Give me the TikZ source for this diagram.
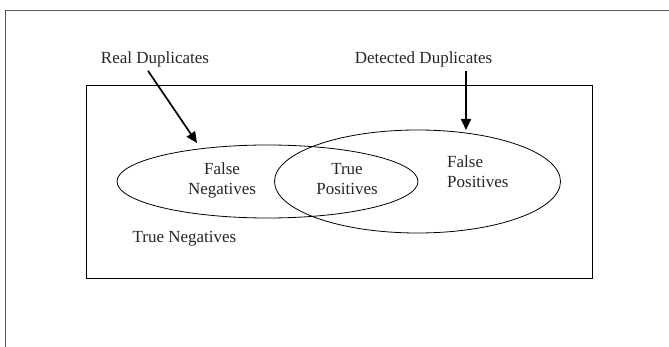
\documentclass[tikz,border=0pt]{standalone}
\usepackage{fontspec}
\setmainfont{Liberation Serif}
\usepackage{tikz}
\usetikzlibrary{arrows.meta,positioning,shapes.geometric}
\tikzstyle{vennset} = [draw, ellipse, line width=0.8pt, inner sep=0pt]
\tikzstyle{vennlabel} = [text=black!85, font=\fontsize{17}{20.5}\selectfont, inner sep=3pt]
\tikzstyle{duparrow} = [draw, line width=1.7pt, -{Triangle[length=11pt,width=10pt]}]
\tikzstyle{pageframe} = [draw=black!65, line width=1.8pt]

\begin{document}
\begin{tikzpicture}[x=1pt,y=-1pt]
        \useasboundingbox (0,0) rectangle (669,347);
        % frame of the page
        \draw[pageframe] (5.5,347) -- (5.5,10.5) -- (669,10.5);
        % the whole record space
        \node[draw, line width=0.9pt, minimum width=506pt, minimum height=193pt] (space) at (339,181.5) {};
        % the two sets
        \node[vennset, minimum width=301pt, minimum height=73pt] (realSet) at (267.5,181.5) {};
        \node[vennset, minimum width=286pt, minimum height=103pt] (detSet) at (417.5,181.5) {};
        % labels
        \node[vennlabel, anchor=base] (real) at (155,64) {Real Duplicates};
        \node[vennlabel, anchor=base] (det) at (423.5,64) {Detected Duplicates};
        \node[vennlabel, anchor=base, align=center] (fn) at (222,195) {False\\Negatives};
        \node[vennlabel, anchor=base, align=center] (tp) at (347,195) {True\\Positives};
        \node[vennlabel, anchor=base west, align=left] (fp) at (444,188) {False\\Positives};
        \node[vennlabel, anchor=base] (tn) at (184.5,243) {True Negatives};
        % arrows
        \coordinate (realTip) at (197,143);
        \coordinate (detTip) at (466,130);
        \draw[duparrow] ([xshift=-7pt]real.south) -- (realTip);
        \draw[duparrow] (detTip |- det.south) -- (detTip);
      \end{tikzpicture}
\end{document}
